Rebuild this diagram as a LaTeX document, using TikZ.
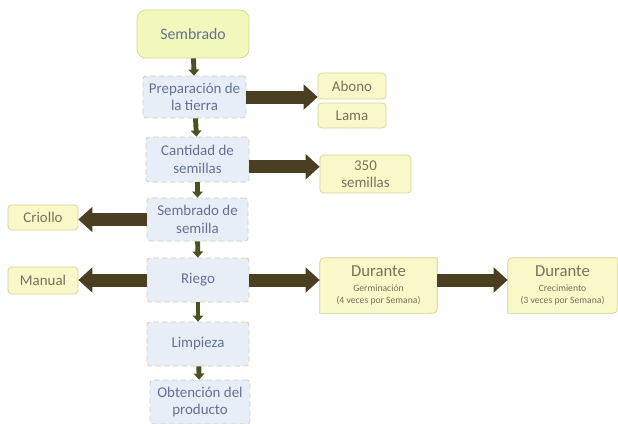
\documentclass[tikz,border=0pt]{standalone}
\usepackage{fontspec}
\setmainfont{Carlito}
\usetikzlibrary{positioning,arrows.meta,calc}
\definecolor{StepBlue}{HTML}{E8EEF8}
\definecolor{StepEdge}{HTML}{C8D1B6}
\definecolor{StartFill}{HTML}{F2F8BC}
\definecolor{StartEdge}{HTML}{D0D88A}
\definecolor{OptFill}{HTML}{F8F8C8}
\definecolor{OptEdge}{HTML}{D6D29A}
\definecolor{ArrowBrown}{HTML}{4B3F21}
\definecolor{ArrowOlive}{HTML}{4A5224}
\definecolor{TextBlue}{HTML}{66708E}
\definecolor{TextOlive}{HTML}{75735A}
\newcommand{\bigtxt}{\fontsize{9.5}{11}\selectfont}
\newcommand{\smalltxt}{\fontsize{5.5}{6.5}\selectfont}

\begin{document}
\begin{tikzpicture}[x=0.02cm,y=-0.02cm,
      every node/.style={font=\fontsize{8.5}{10}\selectfont, align=center, inner sep=1pt},
      ST/.style={draw=StepEdge, densely dashed, fill=StepBlue, rounded corners=1.5pt,
          text=TextBlue, minimum width=2.04cm, minimum height=0.88cm},
      SB/.style={draw=StartEdge, fill=StartFill, rounded corners=5pt, text=TextBlue,
          minimum width=2.24cm, minimum height=0.96cm, font=\fontsize{9}{11}\selectfont},
      OP/.style={draw=OptEdge, fill=OptFill, rounded corners=2pt, text=TextOlive,
          minimum width=1.36cm, minimum height=0.52cm},
      DU/.style={minimum height=1.1cm, text=TextOlive},
      DL/.style={draw=OptEdge, fill=OptFill},
      hr/.style={-{Triangle[length=8pt,width=14pt]}, line width=7.4pt, ArrowBrown},
      vr/.style={-{Triangle[length=3.5pt,width=6pt]}, line width=2.8pt, ArrowOlive},
    ]
    \useasboundingbox (0,0) rectangle (618,423);

    % main steps
    \node[SB] (sem) at (193,34) {Sembrado};
    \node[ST, minimum width=2.06cm, minimum height=0.84cm] (prep) at (194.5,97) {Preparación de\\la tierra};
    \node[ST, minimum width=2.06cm, minimum height=0.9cm] (cant) at (197.5,159.5) {Cantidad de\\semillas};
    \node[ST, minimum width=2.02cm, minimum height=0.86cm] (semb) at (197.5,219.5) {Sembrado de\\semilla};
    \node[ST] (riego) at (198,280) {Riego};
    \node[ST] (limp) at (198,344) {Limpieza};
    \node[ST, minimum width=2.0cm] (obt) at (200,402) {Obtención del\\producto};
    \foreach \a/\b in {sem/prep,prep/cant,cant/semb,semb/riego,riego/limp,limp/obt}
    \draw[vr] (\a) -- (\b);

    % options
    \node[OP] (abono) at (352,86) {Abono};
    \node[OP, minimum height=0.5cm] (lama) at (352,115.5) {Lama};
    \node[OP, minimum width=1.82cm, minimum height=0.76cm] (s350) at (365.5,174) {350\\semillas};
    \node[OP, minimum width=1.4cm, minimum height=0.5cm] (criollo) at (43,217.5) {Criollo};
    \node[OP, minimum width=1.4cm, minimum height=0.54cm] (manual) at (43,280.5) {Manual};
    \node[DU, minimum width=2.34cm] (dur1) at (378.5,285.5) {};
    \node[DU, minimum width=2.18cm] (dur2) at (562.5,285.5) {};
    \foreach \n in {dur1,dur2}
    \filldraw[DL] (\n.north east) -- ([xshift=6pt]\n.north west)
      .. controls (\n.north west) .. ([yshift=-6pt]\n.north west) -- (\n.south west)
      -- ([xshift=-6pt]\n.south east) .. controls (\n.south east) .. ([yshift=6pt]\n.south east) -- cycle;
    \node[text=TextOlive, font=\smalltxt] (dur1txt) at (dur1) {\bigtxt Durante\\[2pt]\smalltxt Germinación\\(4 veces por Semana)};
    \node[text=TextOlive, font=\smalltxt] (dur2txt) at (dur2) {\bigtxt Durante\\[2pt]\smalltxt Crecimiento\\(3 veces por Semana)};

    % side arrows
    \draw[hr] (prep.east) -- (prep.east -| abono.west);
    \draw[hr] ($(cant.east)!0.5!(cant.east |- s350.west)$) -- ($(cant.east -| s350.west)!0.5!(s350.west)$);
    \draw[hr] (semb.west) -- (semb.west -| criollo.east);
    \draw[hr] (riego.west) -- (riego.west -| manual.east);
    \draw[hr] (riego.east) -- (riego.east -| dur1.west);
    \draw[hr] (dur1.east |- riego.east) -- (riego.east -| dur2.west);
  \end{tikzpicture}
\end{document}
